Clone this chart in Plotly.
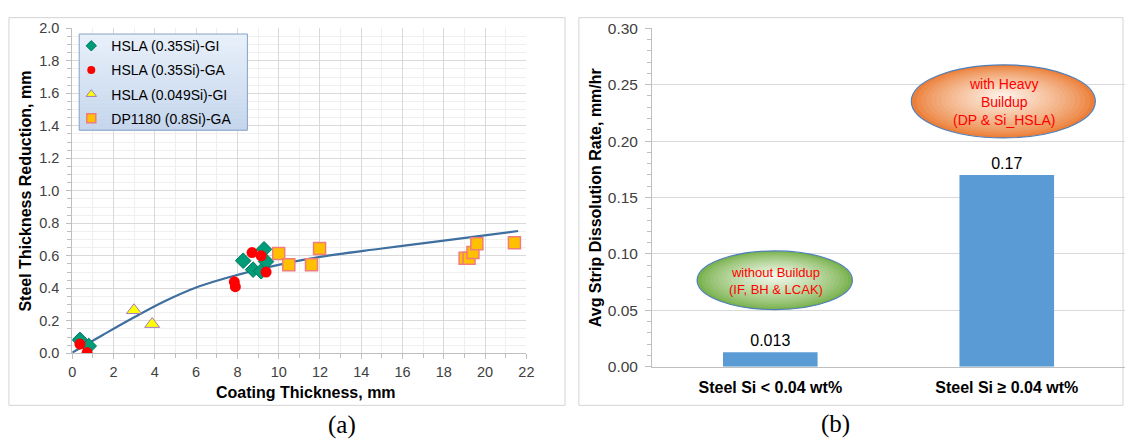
import plotly.graph_objects as go

W, H = 1133, 447

# ---- Panel (a): steel thickness reduction vs coating thickness ----
gi35_x = [0.37, 0.80, 8.28, 8.76, 9.15, 9.29, 9.39]
gi35_y = [0.083, 0.045, 0.57, 0.515, 0.505, 0.64, 0.565]
ga35_x = [0.37, 0.72, 7.85, 7.90, 8.71, 9.15, 9.39]
ga35_y = [0.057, 0.005, 0.44, 0.41, 0.62, 0.60, 0.50]
gi049_x = [2.99, 3.87]
gi049_y = [0.265, 0.18]
dp_x = [10.0, 10.49, 11.59, 11.98, 19.03, 19.22, 19.41, 19.60, 21.42]
dp_y = [0.615, 0.545, 0.545, 0.645, 0.585, 0.585, 0.62, 0.675, 0.68]

# fitted trend curve
trend_x = [0, 1.5, 3, 4.5, 6, 7.5, 9, 10.5, 12, 15, 18, 21.6]
trend_y = [0.005, 0.115, 0.222, 0.322, 0.405, 0.465, 0.515, 0.558, 0.594, 0.645, 0.694, 0.753]

series_names = ["HSLA (0.35Si)-GI", "HSLA (0.35Si)-GA", "HSLA (0.049Si)-GI", "DP1180 (0.8Si)-GA"]

# ---- Panel (b): average strip dissolution rate ----
categories = ["Steel Si < 0.04 wt%", "Steel Si \u2265 0.04 wt%"]
rates = [0.013, 0.17]


def fx(p):
    return p / W


def fy(p):
    return 1 - p / H


FONT = "Arial, Liberation Sans, sans-serif"
TICK_COLOR = "#404040"

marker_styles = [
    dict(symbol="diamond", color="#009B77", line=dict(color="#007A63", width=1)),
    dict(symbol="circle", color="#FF0000", line=dict(width=0)),
    dict(symbol="triangle-up", color="#FFFF00", line=dict(color="#A07CC0", width=1)),
    dict(symbol="square", color="#FFC000", line=dict(color="#F07C7C", width=1.5)),
]
marker_sizes = [12, 11, 13, 12]
legend_sizes = [8, 8, 9, 9]

fig = go.Figure()

fig.add_trace(go.Scatter(
    x=trend_x, y=trend_y, mode="lines", line=dict(color="#3E6F9E", width=2.2, shape="spline"),
    showlegend=False, hoverinfo="skip", xaxis="x", yaxis="y"))

for xs, ys, name, st, sz in zip([gi35_x, ga35_x, gi049_x, dp_x], [gi35_y, ga35_y, gi049_y, dp_y],
                                series_names, marker_styles, marker_sizes):
    fig.add_trace(go.Scatter(x=xs, y=ys, mode="markers", name=name, legendgroup=name,
                             showlegend=False, marker=dict(size=sz, **st), xaxis="x", yaxis="y"))

# legend entries with compact symbols
for name, st, sz in zip(series_names, marker_styles, legend_sizes):
    fig.add_trace(go.Scatter(x=[None], y=[None], mode="markers", name=name, legendgroup=name,
                             marker=dict(size=sz, **st), xaxis="x", yaxis="y"))

fig.add_trace(go.Bar(
    x=categories, y=rates, marker=dict(color="#5B9BD5", line=dict(width=0)),
    width=0.4, text=[str(v) for v in rates], textposition="outside",
    textfont=dict(family=FONT, size=16, color="#000000"), cliponaxis=False,
    showlegend=False, xaxis="x2", yaxis="y2"))

shapes = []

# panel frames
for x0, x1 in [(5, 567), (581, 1131)]:
    shapes.append(dict(type="rect", xref="paper", yref="paper",
                       x0=fx(x0), x1=fx(x1), y0=fy(412), y1=fy(9),
                       line=dict(color="#D4D4D4", width=1), fillcolor="rgba(0,0,0,0)", layer="below"))

# legend box with vertical gradient
lx0, lx1, ly0, ly1 = 76, 246, 26, 126
n_band = 24
top_c = (232, 240, 250)
bot_c = (196, 213, 236)
for i in range(n_band):
    t = i / (n_band - 1)
    c = tuple(int(round(top_c[k] + (bot_c[k] - top_c[k]) * t)) for k in range(3))
    y_a = ly0 + (ly1 - ly0) * i / n_band
    y_b = ly0 + (ly1 - ly0) * (i + 1) / n_band
    shapes.append(dict(type="rect", xref="paper", yref="paper",
                       x0=fx(lx0), x1=fx(lx1), y0=fy(y_b + 0.6), y1=fy(y_a),
                       line=dict(width=0), fillcolor="rgb(%d,%d,%d)" % c, layer="above"))
shapes.append(dict(type="rect", xref="paper", yref="paper",
                   x0=fx(lx0), x1=fx(lx1), y0=fy(ly1), y1=fy(ly0),
                   line=dict(color="#86A2C6", width=1), fillcolor="rgba(0,0,0,0)", layer="above"))


def gradient_ellipse(cx, cy, w, h, edge, center, steps=18):
    out = []
    for i in range(steps):
        t = i / (steps - 1)
        s = 1 - 0.92 * t
        c = tuple(int(round(edge[k] + (center[k] - edge[k]) * t ** 0.8)) for k in range(3))
        ww, hh = w * s, h * s
        ccy = cy - (1 - s) * h * 0.08
        out.append(dict(type="circle", xref="paper", yref="paper",
                        x0=fx(cx - ww / 2), x1=fx(cx + ww / 2),
                        y0=fy(ccy + hh / 2), y1=fy(ccy - hh / 2),
                        line=dict(width=0), fillcolor="rgb(%d,%d,%d)" % c, layer="above"))
    out.append(dict(type="circle", xref="paper", yref="paper",
                    x0=fx(cx - w / 2), x1=fx(cx + w / 2),
                    y0=fy(cy + h / 2), y1=fy(cy - h / 2),
                    line=dict(color="#4F7FBA", width=1.2), fillcolor="rgba(0,0,0,0)", layer="above"))
    return out


shapes += gradient_ellipse(779, 282, 157, 61, (122, 178, 78), (240, 247, 232))
shapes += gradient_ellipse(1010, 96, 186, 76, (236, 128, 58), (253, 238, 226))


def label(text, x, y, size, color="#000000", bold=False, angle=0, family=FONT):
    return dict(text=text, x=fx(x), y=fy(y), xref="paper", yref="paper",
                xanchor="center", yanchor="middle", showarrow=False, textangle=angle,
                font=dict(family=family, size=size, color=color, weight="bold" if bold else "normal"))


SERIF = "Liberation Serif, Times New Roman, serif"
annotations = [
    label("Coating Thickness, mm", 305, 399, 16, bold=True),
    label("Steel Thickness Reduction, mm", 22, 189, 16, bold=True, angle=-90),
    label("Avg Strip Dissolution Rate, mm/hr", 598, 196, 16, bold=True, angle=-90),
    label("without Buildup<br>(IF, BH &amp; LCAK)", 780, 283, 13, color="#FF0000"),
    label("with Heavy<br>Buildup<br>(DP &amp; Si_HSLA)", 1011, 97, 14, color="#FF0000"),
    label("(a)", 342, 432, 25, family=SERIF),
    label("(b)", 840, 431, 25, family=SERIF),
]

fig.update_layout(
    width=W, height=H,
    margin=dict(l=0, r=0, t=0, b=0),
    paper_bgcolor="#FFFFFF", plot_bgcolor="#FFFFFF",
    font=dict(family=FONT, color=TICK_COLOR),
    showlegend=True,
    legend=dict(x=fx(68), y=fy(22), xanchor="left", yanchor="top",
                bgcolor="rgba(0,0,0,0)", borderwidth=0,
                font=dict(family=FONT, size=14, color="#000000"),
                traceorder="grouped", tracegroupgap=3, itemwidth=30),
    xaxis=dict(domain=[fx(69), fx(528)], range=[0, 22], dtick=2, tick0=0,
               showgrid=True, gridcolor="#D9D9D9", gridwidth=1,
               showline=True, linecolor="#BFBFBF", linewidth=1,
               ticks="outside", ticklen=5, tickcolor="#BFBFBF",
               minor=dict(dtick=1, showgrid=True, gridcolor="#EFEFEF", ticks="outside",
                          ticklen=4, tickcolor="#BFBFBF"),
               tickfont=dict(family=FONT, size=14.5, color=TICK_COLOR), zeroline=False,
               anchor="y", fixedrange=True),
    yaxis=dict(domain=[fy(358), fy(20)], range=[0, 2.0], dtick=0.2, tick0=0, tickformat=".1f",
               showgrid=True, gridcolor="#D9D9D9", gridwidth=1,
               showline=True, linecolor="#BFBFBF", linewidth=1,
               ticks="outside", ticklen=5, tickcolor="#BFBFBF",
               minor=dict(dtick=0.05, showgrid=True, gridcolor="#EFEFEF", ticks="outside",
                          ticklen=4, tickcolor="#BFBFBF"),
               tickfont=dict(family=FONT, size=14.5, color=TICK_COLOR), zeroline=False,
               ticklabelstandoff=4, anchor="x", fixedrange=True),
    xaxis2=dict(domain=[fx(655), 1.0], range=[-0.5, 1.5], type="category",
                showgrid=False, showline=True, linecolor="#BFBFBF", linewidth=1, ticks="",
                tickfont=dict(family=FONT, size=16, color="#000000", weight="bold"),
                ticklabelstandoff=6, anchor="y2", fixedrange=True),
    yaxis2=dict(domain=[fy(372), fy(20)], range=[0, 0.30], dtick=0.05, tick0=0, tickformat=".2f",
                showgrid=True, gridcolor="#D9D9D9", gridwidth=1,
                showline=True, linecolor="#BFBFBF", linewidth=1,
                ticks="outside", ticklen=6, tickcolor="#BFBFBF",
                minor=dict(dtick=0.01, ticks="outside", ticklen=4, tickcolor="#BFBFBF", showgrid=False),
                tickfont=dict(family=FONT, size=15.5, color=TICK_COLOR), zeroline=False,
                ticklabelstandoff=4, anchor="x2", fixedrange=True),
    shapes=shapes,
    annotations=annotations,
)

fig.write_html("out.html")
